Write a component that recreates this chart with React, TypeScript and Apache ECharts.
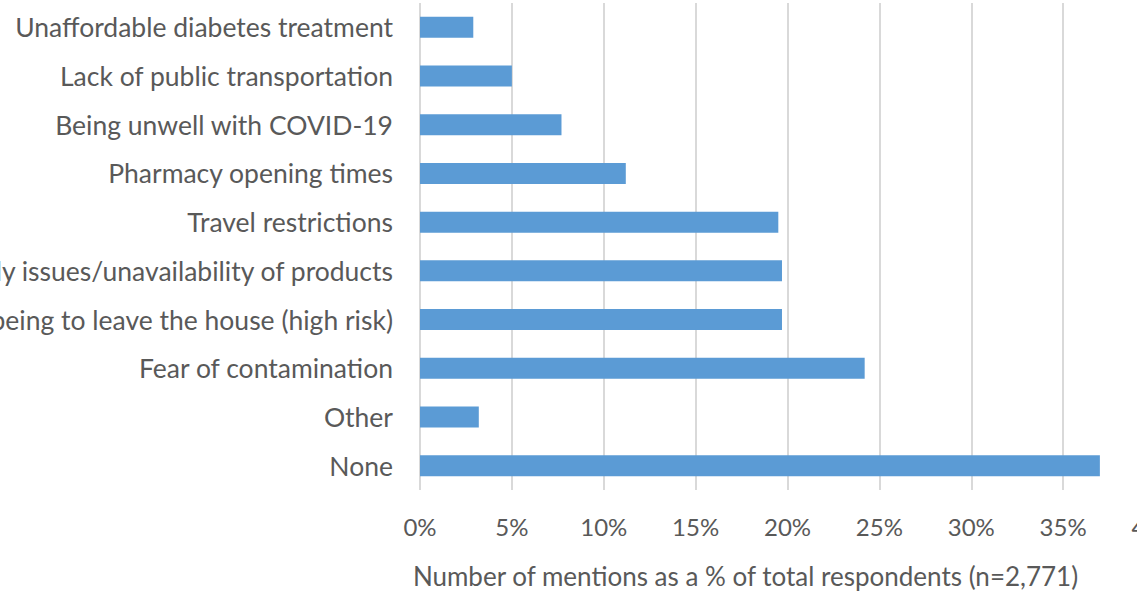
import React, { useEffect, useRef } from "react";
import * as echarts from "echarts";

const categories = [
  "Unaffordable diabetes treatment",
  "Lack of public transportation",
  "Being unwell with COVID-19",
  "Pharmacy opening times",
  "Travel restrictions",
  "Supply issues/unavailability of products",
  "Not being to leave the house (high risk)",
  "Fear of contamination",
  "Other",
  "None",
];
const values = [2.9, 5.0, 7.7, 11.2, 19.5, 19.7, 19.7, 24.2, 3.2, 37.0];
const xTicks = [0, 5, 10, 15, 20, 25, 30, 35, 40];
const xTitle = "Number of mentions as a % of total respondents (n=2,771)";

export default function App() {
  const ref = useRef<HTMLDivElement>(null);
  useEffect(() => {
    if (!ref.current) return;
    const chart = echarts.init(ref.current, undefined, { renderer: "svg" });
    const font = "Lato";
    chart.setOption({
      animation: false,
      backgroundColor: "#ffffff",
      grid: {
        left: 420,
        width: 735,
        top: 3,
        height: 487,
        containLabel: false,
        outerBoundsMode: "none",
      },
      xAxis: {
        type: "value",
        min: xTicks[0],
        max: xTicks[xTicks.length - 1],
        interval: 5,
        axisLine: { show: false },
        axisTick: { show: false },
        splitLine: { show: true, lineStyle: { color: "#d9d9d9", width: 2 } },
        axisLabel: {
          formatter: (v: number) => v + "%",
          color: "#595959",
          fontFamily: font,
          fontSize: 24,
          margin: 24,
          hideOverlap: false,
        },
        name: xTitle,
        nameLocation: "middle",
        nameGap: 73,
        nameTextStyle: {
          color: "#595959",
          fontFamily: font,
          fontSize: 26,
          padding: [0, 84, 0, 0],
        },
      },
      yAxis: {
        type: "category",
        inverse: true,
        data: categories,
        axisLine: { show: false },
        axisTick: { show: false },
        axisLabel: {
          color: "#595959",
          fontFamily: font,
          fontSize: 26.5,
          margin: 27,
        },
      },
      series: [
        {
          type: "bar",
          data: values,
          barWidth: 21,
          itemStyle: { color: "#5b9bd5" },
        },
      ],
    });
    return () => chart.dispose();
  }, []);
  return (
    <div
      ref={ref}
      style={{ position: "absolute", left: 0, top: 0, width: 1137, height: 592 }}
    />
  );
}
